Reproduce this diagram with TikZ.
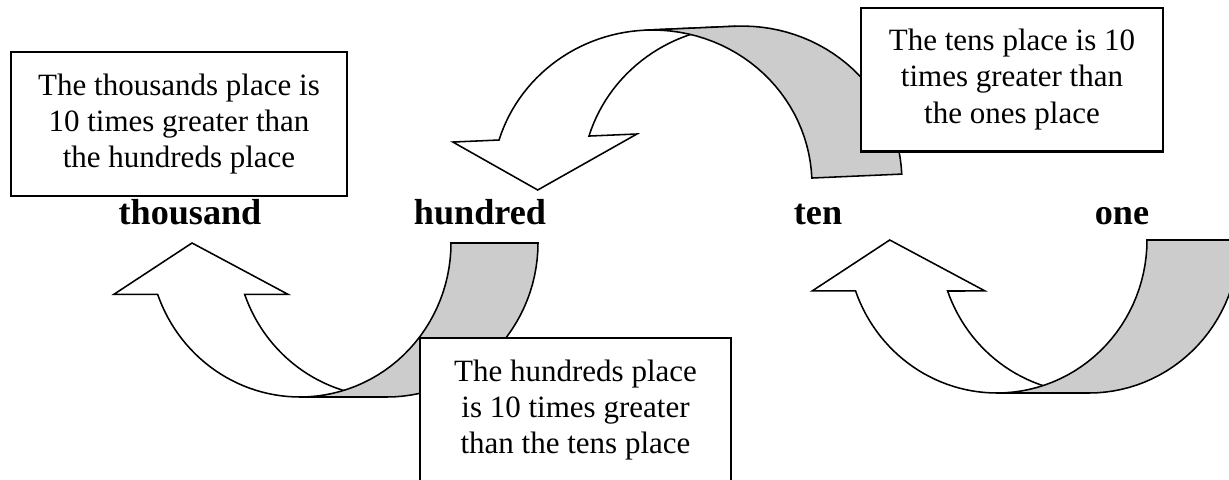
\documentclass[tikz,border=0pt]{standalone}
\usepackage{fontspec}
\setmainfont{Liberation Serif}
\begin{document}
\begin{tikzpicture}[x=0.387pt, y=0.387pt,
    front/.style={draw, fill=white, line width=0.6pt},
    back/.style={draw, fill=gray!40, line width=0.6pt},
    place/.style={font=\fontsize{14}{16}\selectfont\bfseries, anchor=base},
    note/.style={draw, fill=white, line width=0.8pt, inner sep=0pt, align=center,
      minimum height=55.7pt, font=\fontsize{12}{14.1}\selectfont}]
  \useasboundingbox (0,0) rectangle (1229,479);
  % curved arrows: front part white, back part grey
  \foreach \cx/\cy/\rx/\ry/\w/\ys/\rot in
      {300/236/151/154/87/1/0, 997/239/150/153/92/1/0, 652/294/160/155/90/-1/2.5}{
    \begin{scope}[shift={(\cx,\cy)}, rotate=\rot, yscale=\ys]
      \filldraw[front] ({-0.943*\rx},{-0.333*\ry})
        -- plot[domain=199.47:270, variable=\t, samples=30] ({\rx*cos(\t)},{\ry*sin(\t)})
        -- plot[domain=270:199.47, variable=\t, samples=30] ({\w+\rx*cos(\t)},{\ry*sin(\t)})
        -- ({-0.08*\rx},{-0.333*\ry}) -- ({-0.715*\rx},0)
        -- ({-1.232*\rx},{-0.333*\ry}) -- cycle;
      \filldraw[back] (0,-\ry)
        -- plot[domain=270:360, variable=\t, samples=30] ({\rx*cos(\t)},{\ry*sin(\t)})
        -- plot[domain=360:270, variable=\t, samples=30] ({\w+\rx*cos(\t)},{\ry*sin(\t)})
        -- cycle;
    \end{scope}
  }
  % place names
  \node[place] (thousand) at (190,255) {thousand};
  \node[place] (hundred) at (480,255) {hundred};
  \node[place] (ten) at (818,255) {ten};
  \node[place] (one) at (1122,255) {one};
  % notes
  \node[note, minimum width=130pt] (thbox) at (179,355)
    {The thousands place is\\10 times greater than\\the hundreds place};
  \node[note, minimum width=116.9pt] (tebox) at (1012,399.5)
    {The tens place is 10\\times greater than\\the ones place};
  \node[note, minimum width=120.4pt] (hubox) at (575.5,69)
    {The hundreds place\\is 10 times greater\\than the tens place};
\end{tikzpicture}
\end{document}
